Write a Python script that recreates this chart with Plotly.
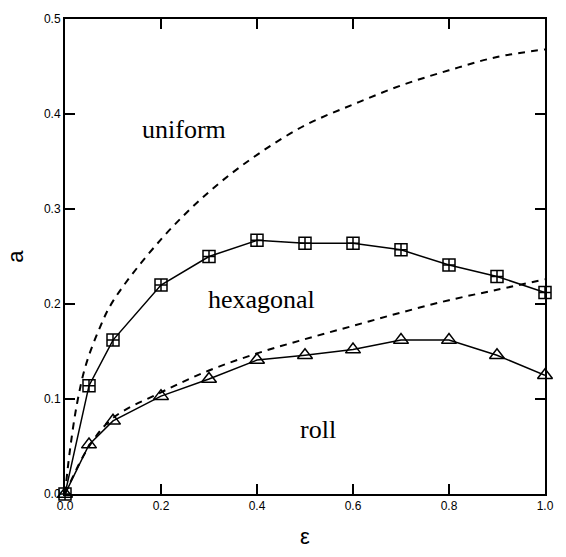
import plotly.graph_objects as go

# Data
eps_pts = [0.0, 0.05, 0.1, 0.2, 0.3, 0.4, 0.5, 0.6, 0.7, 0.8, 0.9, 1.0]
hex_a = [0.0, 0.114, 0.162, 0.220, 0.250, 0.267, 0.264, 0.264, 0.257, 0.241, 0.229, 0.212]
roll_a = [0.0, 0.052, 0.077, 0.103, 0.121, 0.141, 0.146, 0.152, 0.162, 0.162, 0.146, 0.125]

upper_eps = [0.0, 0.01, 0.025, 0.043, 0.07, 0.1, 0.2, 0.3, 0.4, 0.5, 0.6, 0.7, 0.8, 0.9, 1.0]
upper_a = [0.0, 0.045, 0.095, 0.135, 0.172, 0.203, 0.268, 0.318, 0.357, 0.388, 0.410, 0.430, 0.446, 0.460, 0.468]

lower_eps = [0.0, 0.05, 0.1, 0.2, 0.3, 0.4, 0.5, 0.6, 0.7, 0.8, 0.9, 1.0]
lower_a = [0.0, 0.05, 0.08, 0.107, 0.130, 0.148, 0.163, 0.177, 0.191, 0.204, 0.215, 0.226]

x_ticks = [0.0, 0.2, 0.4, 0.6, 0.8, 1.0]
y_ticks = [0.0, 0.1, 0.2, 0.3, 0.4, 0.5]
region_labels = ["uniform", "hexagonal", "roll"]
label_pos_x = [0.247, 0.41, 0.527]
label_pos_y = [0.384, 0.205, 0.0675]

fig = go.Figure()

fig.add_trace(go.Scatter(x=upper_eps, y=upper_a, mode="lines",
                         line=dict(color="black", width=2, dash="7px,6px", shape="spline"),
                         showlegend=False))
fig.add_trace(go.Scatter(x=lower_eps, y=lower_a, mode="lines",
                         line=dict(color="black", width=2, dash="7px,6px", shape="spline"),
                         showlegend=False))
fig.add_trace(go.Scatter(x=eps_pts, y=hex_a, mode="lines+markers",
                         line=dict(color="black", width=1.5),
                         marker=dict(symbol="square-cross-open", size=12, color="black",
                                     line=dict(color="black", width=1.5)),
                         cliponaxis=False, showlegend=False))
fig.add_trace(go.Scatter(x=eps_pts, y=roll_a, mode="lines+markers",
                         line=dict(color="black", width=1.5),
                         marker=dict(symbol="triangle-up-open", size=13, color="black",
                                     line=dict(color="black", width=1.5)),
                         cliponaxis=False, showlegend=False))

for t, lx, ly in zip(region_labels, label_pos_x, label_pos_y):
    fig.add_annotation(x=lx, y=ly, xref="x", yref="y", text=t, showarrow=False,
                       font=dict(family="Liberation Serif", size=26, color="black"))

axis_common = dict(showline=True, linecolor="black", linewidth=2, mirror="ticks",
                   ticks="inside", ticklen=10, tickwidth=1.5, tickcolor="black",
                   showgrid=False, zeroline=False,
                   tickfont=dict(family="Liberation Sans", size=12, color="black"))

fig.update_xaxes(range=[0, 1], tickvals=x_ticks, ticktext=[f"{v:.1f}" for v in x_ticks],
                 title=dict(text="ε", font=dict(family="Liberation Sans", size=22, color="black"),
                            standoff=16),
                 **axis_common)
fig.update_yaxes(range=[0, 0.5], tickvals=y_ticks, ticktext=[f"{v:.1f}" for v in y_ticks],
                 title=dict(text="a", font=dict(family="Liberation Sans", size=22, color="black"),
                            standoff=14),
                 **axis_common)

fig.update_layout(width=566, height=557, margin=dict(l=65, r=14, t=19, b=53),
                  paper_bgcolor="white", plot_bgcolor="white")

fig.write_html("out.html")
